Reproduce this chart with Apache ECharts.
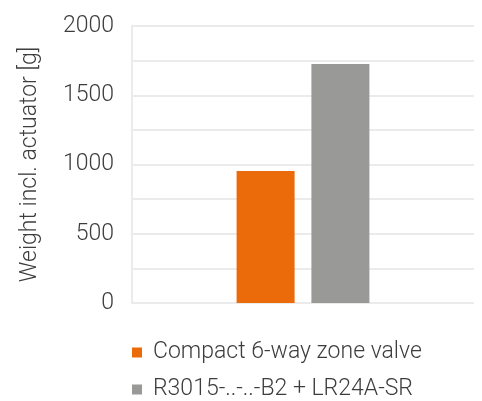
<!DOCTYPE html>
<html><head><meta charset="utf-8">
<script src="https://cdn.jsdelivr.net/npm/echarts@6/dist/echarts.min.js"></script>
<style>html,body{margin:0;padding:0;background:#fff}#c{width:482px;height:401px}</style>
</head><body><div id="c"></div>
<script>
const categories = [''];
const seriesNames = ['Compact 6-way zone valve', 'R3015-..-..-B2 + LR24A-SR'];
const compactValues = [953];
const r3015Values = [1726];
const yTickLabels = ['0', '500', '1000', '1500', '2000'];
const yAxisName = 'Weight incl. actuator [g]';

const txt = '#3d3d3d';
const font = 'Roboto';
const legendBase = {
  orient: 'vertical', left: 132, padding: 0,
  itemWidth: 10, itemHeight: 10, icon: 'rect',
  textStyle: {fontFamily: font, fontWeight: 300, fontSize: 23, color: txt, padding: [0,0,0,6]}
};
const chart = echarts.init(document.getElementById('c'), null, {renderer: 'canvas'});
chart.setOption({
  animation: false,
  backgroundColor: '#fff',
  grid: {left: 132, right: 8, top: 26, bottom: 98},
  legend: [
    Object.assign({}, legendBase, {top: 341, data: [seriesNames[0]]}),
    Object.assign({}, legendBase, {top: 378, data: [seriesNames[1]]})
  ],
  xAxis: {
    type: 'category', data: categories,
    axisLine: {show: false}, axisTick: {show: false}, axisLabel: {show: false}
  },
  yAxis: {
    type: 'value', min: 0, max: 2000, interval: 250,
    name: yAxisName, nameLocation: 'middle', nameGap: 90,
    nameTextStyle: {fontFamily: font, fontWeight: 300, fontSize: 23, color: txt},
    axisLine: {show: true, lineStyle: {color: '#ebebeb', width: 2}},
    axisTick: {show: false},
    axisLabel: {
      fontFamily: font, fontWeight: 300, fontSize: 23, color: txt, margin: 18,
      formatter: v => yTickLabels.includes(String(v)) ? String(v) : ''
    },
    splitLine: {show: true, lineStyle: {color: '#ebebeb', width: 2}}
  },
  series: [
    {name: seriesNames[0], type: 'bar', data: compactValues, barWidth: 58, barGap: '29%', itemStyle: {color: '#EB6A0A'}},
    {name: seriesNames[1], type: 'bar', data: r3015Values, barWidth: 58, itemStyle: {color: '#999998'}}
  ]
});
</script></body></html>
